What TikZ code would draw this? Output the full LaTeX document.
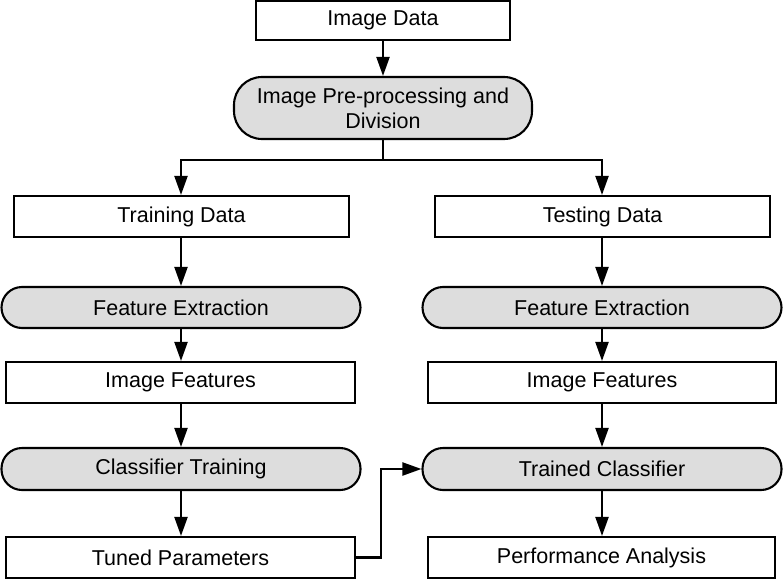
\documentclass[tikz,border=0pt]{standalone}
\usepackage{fontspec}
\setmainfont{Liberation Sans}
\usetikzlibrary{arrows.meta}
\definecolor{boxgray}{RGB}{221,221,221}
\tikzset{
  base/.style={draw=black, line width=2.1pt, inner sep=0pt, align=center,
    font=\fontsize{21.5}{25}\selectfont, text=black},
  plainbox/.style={base, rectangle, fill=white},
  procbox/.style={base, rectangle, fill=boxgray, rounded corners=20.5pt},
  arr/.style={line width=2.1pt, -{Triangle[length=19pt,width=13pt]}},
  ln/.style={line width=2.1pt},
}
\begin{document}
\begin{tikzpicture}[x=1pt,y=-1pt]
\useasboundingbox (0,0) rectangle (783,583);
\node[plainbox, minimum width=254pt, minimum height=39pt] (imgdata) at (383,20.5) {Image Data};
\node[procbox, rounded corners=28pt, minimum width=298pt, minimum height=62pt] (pre) at (383,108) {Image Pre-processing and\\Division};
\node[plainbox, minimum width=335pt, minimum height=41pt] (train) at (181.5,216.5) {Training Data};
\node[plainbox, minimum width=335pt, minimum height=41pt] (test) at (602.5,216.5) {Testing Data};
\node[procbox, minimum width=359pt, minimum height=41pt] (fel) at (181,307.5) {Feature Extraction};
\node[procbox, minimum width=359pt, minimum height=41pt] (fer) at (602,307.5) {Feature Extraction};
\node[plainbox, minimum width=349pt, minimum height=41pt] (ifl) at (180.5,382.5) {Image Features};
\node[plainbox, minimum width=348pt, minimum height=41pt] (ifr) at (602,382.5) {Image Features};
\node[procbox, minimum width=359pt, minimum height=42pt] (ct) at (181,469) {Classifier Training};
\node[procbox, minimum width=359pt, minimum height=42pt] (tc) at (602,469) {Trained Classifier};
\node[plainbox, minimum width=349pt, minimum height=41pt] (tp) at (180.5,557.5) {Tuned Parameters};
\node[plainbox, minimum width=347pt, minimum height=41pt] (pa) at (601.5,557.5) {Performance Analysis};

\draw[arr] (imgdata.south) -- (pre.north);
\draw[ln] (pre.south) -- ++(0,20) coordinate (split);
\draw[arr] (split) -| (fel.north |- train.north);
\draw[arr] (split) -| (fer.north |- test.north);
\draw[arr] (fel.north |- train.south) -- (fel.north);
\draw[arr] (fer.north |- test.south) -- (fer.north);
\draw[arr] (fel.south) -- (fel.south |- ifl.north);
\draw[arr] (fer.south) -- (ifr.north);
\draw[arr] (fel.south |- ifl.south) -- (ct.north);
\draw[arr] (ifr.south) -- (tc.north);
\draw[arr] (ct.south) -- (ct.south |- tp.north);
\draw[arr] (tc.south) -- (tc.south |- pa.north);
\draw[arr] (tp.east) -- ++(25,0) |- (tc.west);
\end{tikzpicture}
\end{document}
